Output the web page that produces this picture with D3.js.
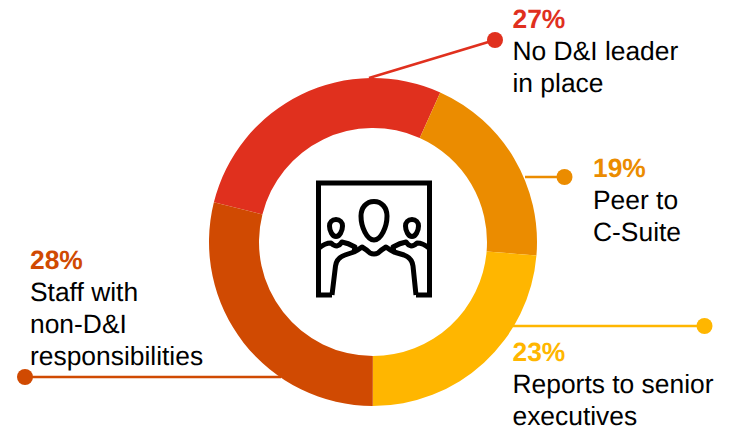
<!DOCTYPE html>
<html>
<head>
<meta charset="utf-8">
<script src="https://cdn.jsdelivr.net/npm/d3@7/dist/d3.min.js"></script>
<style>
  html, body { margin: 0; padding: 0; background: #fff; overflow: hidden; }
  svg { display: block; }
  text { font-family: "Liberation Sans", Arial, sans-serif; font-size: 26.4px; text-rendering: geometricPrecision; }
</style>
</head>
<body>
<svg id="chart" width="733" height="426"></svg>
<script>
// Survey shares, clockwise from the top-left slice
const categories = ["No D&I leader in place", "Peer to C-Suite", "Reports to senior executives", "Staff with non-D&I responsibilities"];
const shares = [27, 19, 23, 28];
const sliceColors = ["#E0301E", "#EB8C00", "#FFB600", "#D04A02"];
const labelLines = [
  ["No D&I leader", "in place"],
  ["Peer to", "C-Suite"],
  ["Reports to senior", "executives"],
  ["Staff with", "non-D&I", "responsibilities"]
];

// Callout placement: leader from the ring to a dot, with the text block beside it
const callouts = [
  { from: [369, 78],  to: [495, 40],  textX: 512.5, textY: 28 },
  { from: [525, 177], to: [564.5, 177], textX: 593, textY: 177 },
  { from: [513, 326], to: [704.5, 326], textX: 512.5, textY: 361 },
  { from: [281, 377], to: [25, 377],  textX: 30,  textY: 269 }
];

const cx = 373, cy = 242, outerR = 164, innerR = 114, lineHeight = 32;
const svg = d3.select("#chart");

// Leaders sit underneath the ring
callouts.forEach((c, i) => {
  svg.append("line")
    .attr("x1", c.from[0]).attr("y1", c.from[1])
    .attr("x2", c.to[0]).attr("y2", c.to[1])
    .attr("stroke", sliceColors[i]).attr("stroke-width", 2.6);
  svg.append("circle")
    .attr("cx", c.to[0]).attr("cy", c.to[1]).attr("r", 8)
    .attr("fill", sliceColors[i]);
});

// Ring
const startAngle = -76 * Math.PI / 180;
const pie = d3.pie().sort(null).startAngle(startAngle).endAngle(startAngle + 2 * Math.PI);
const arc = d3.arc().innerRadius(innerR).outerRadius(outerR);
svg.append("g")
  .attr("transform", `translate(${cx},${cy})`)
  .selectAll("path")
  .data(pie(shares))
  .join("path")
  .attr("d", arc)
  .attr("fill", (d, i) => sliceColors[i])
  .append("title")
  .text((d, i) => categories[i]);

// Percentage and description text
callouts.forEach((c, i) => {
  const t = svg.append("text").attr("x", c.textX).attr("y", c.textY);
  t.append("tspan")
    .attr("font-weight", "bold")
    .attr("fill", sliceColors[i])
    .text(shares[i] + "%");
  labelLines[i].forEach(line => {
    t.append("tspan")
      .attr("x", c.textX).attr("dy", lineHeight)
      .attr("fill", "#000")
      .text(line);
  });
});

// Central pictogram: three people in a frame
const icon = svg.append("g")
  .attr("fill", "none").attr("stroke", "#000")
  .attr("stroke-width", 5).attr("stroke-linejoin", "round");
icon.append("path").attr("stroke-linejoin", "miter").attr("d", "M332,295H318.5V183H429.5V295H416");
// Egg-shaped heads, widest above the middle
icon.append("path").attr("d", "M374,201.5C382,201.5 387,208 387,216C387,227 381,240 374,240C367,240 361,227 361,216C361,208 366,201.5 374,201.5Z");
icon.append("path").attr("d", "M336,219.5C340,219.5 342.5,222.5 342.5,226C342.5,231 339.5,236.5 336,236.5C332.5,236.5 329.5,231 329.5,226C329.5,222.5 332,219.5 336,219.5Z");
icon.append("path").attr("d", "M412,219.5C416,219.5 418.5,222.5 418.5,226C418.5,231 415.5,236.5 412,236.5C408.5,236.5 405.5,231 405.5,226C405.5,222.5 408,219.5 412,219.5Z");
// Shoulders of the central figure
icon.append("path").attr("d",
  "M332,295L335.5,266Q336.5,258 345,255L354,252Q358,250 362,247Q367,250 370,253Q374,255 378,253Q381,250 386,247Q390,250 394,252L404,255Q412,258 413,266L416,295");
// Shoulders of the figures either side
icon.append("path").attr("d",
  "M319,248Q325,243 331,243Q334,246 337,246Q340,245 342,242Q348,243 355,247L354,252");
icon.append("path").attr("d",
  "M429,248Q423,243 417,243Q414,246 411,246Q408,245 406,242Q400,243 393,247L394,252");
</script>
</body>
</html>
